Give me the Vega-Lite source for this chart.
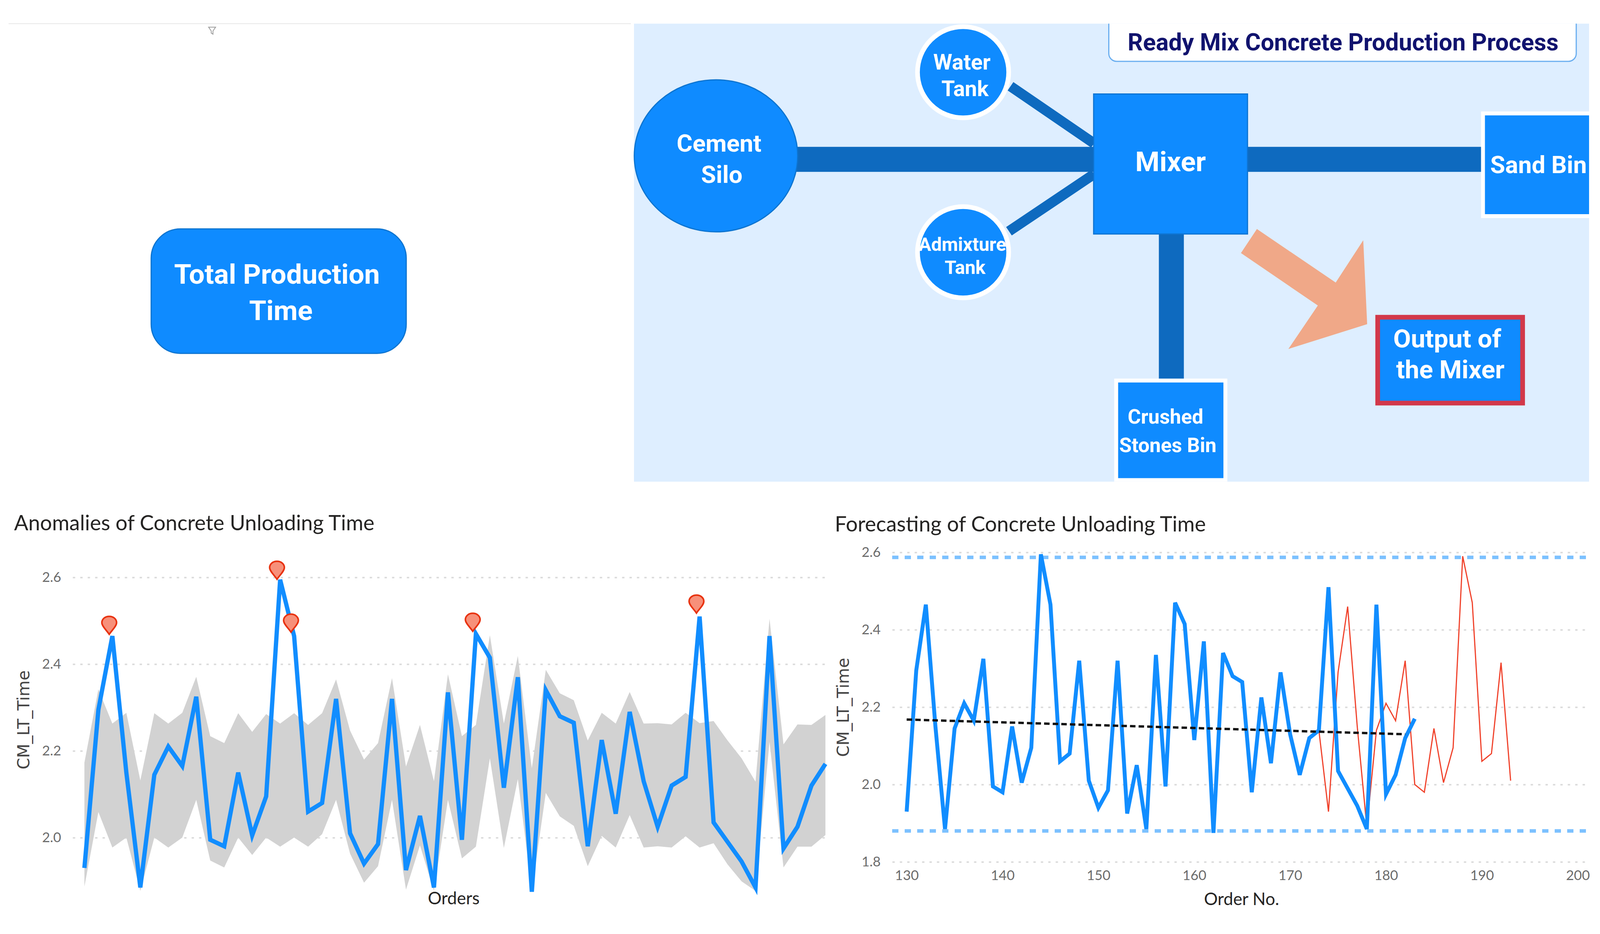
{
  "$schema": "https://vega.github.io/schema/vega-lite/v6.json",
  "description": "Concrete production process dashboard with anomaly and forecast line charts.",
  "background": "#ffffff",
  "padding": {"left": 20, "top": 43.5, "right": 0, "bottom": 0},
  "autosize": {"type": "pad"},
  "datasets": {
    "orders": [
      {"order":130,"value":1.93,"upper":2.173,"lower":1.887},
      {"order":131,"value":2.295,"upper":2.342,"lower":2.059},
      {"order":132,"value":2.465,"upper":2.263,"lower":1.977},
      {"order":133,"value":2.15,"upper":2.288,"lower":2.0},
      {"order":134,"value":1.885,"upper":2.132,"lower":1.877},
      {"order":135,"value":2.145,"upper":2.287,"lower":2.0},
      {"order":136,"value":2.21,"upper":2.263,"lower":1.977},
      {"order":137,"value":2.165,"upper":2.288,"lower":2.0},
      {"order":138,"value":2.325,"upper":2.371,"lower":2.087},
      {"order":139,"value":1.995,"upper":2.234,"lower":1.947},
      {"order":140,"value":1.98,"upper":2.218,"lower":1.931},
      {"order":141,"value":2.15,"upper":2.287,"lower":2.0},
      {"order":142,"value":2.005,"upper":2.244,"lower":1.96},
      {"order":143,"value":2.095,"upper":2.285,"lower":2.0},
      {"order":144,"value":2.595,"upper":2.263,"lower":1.979},
      {"order":145,"value":2.465,"upper":2.287,"lower":2.0},
      {"order":146,"value":2.06,"upper":2.26,"lower":1.979},
      {"order":147,"value":2.08,"upper":2.287,"lower":2.008},
      {"order":148,"value":2.32,"upper":2.365,"lower":2.087},
      {"order":149,"value":2.01,"upper":2.247,"lower":1.963},
      {"order":150,"value":1.94,"upper":2.18,"lower":1.896},
      {"order":151,"value":1.985,"upper":2.218,"lower":1.934},
      {"order":152,"value":2.32,"upper":2.368,"lower":2.087},
      {"order":153,"value":1.925,"upper":2.164,"lower":1.88},
      {"order":154,"value":2.05,"upper":2.26,"lower":1.982},
      {"order":155,"value":1.885,"upper":2.13,"lower":1.877},
      {"order":156,"value":2.335,"upper":2.377,"lower":2.087},
      {"order":157,"value":1.995,"upper":2.234,"lower":1.952},
      {"order":158,"value":2.47,"upper":2.26,"lower":1.979},
      {"order":159,"value":2.415,"upper":2.467,"lower":2.183},
      {"order":160,"value":2.115,"upper":2.263,"lower":1.976},
      {"order":161,"value":2.37,"upper":2.419,"lower":2.135},
      {"order":162,"value":1.875,"upper":2.16,"lower":1.877},
      {"order":163,"value":2.34,"upper":2.387,"lower":2.103},
      {"order":164,"value":2.28,"upper":2.333,"lower":2.049},
      {"order":165,"value":2.265,"upper":2.317,"lower":2.027},
      {"order":166,"value":1.98,"upper":2.224,"lower":1.934},
      {"order":167,"value":2.225,"upper":2.288,"lower":2.004},
      {"order":168,"value":2.055,"upper":2.263,"lower":1.977},
      {"order":169,"value":2.29,"upper":2.336,"lower":2.052},
      {"order":170,"value":2.13,"upper":2.263,"lower":1.977},
      {"order":171,"value":2.025,"upper":2.264,"lower":1.98},
      {"order":172,"value":2.12,"upper":2.261,"lower":1.977},
      {"order":173,"value":2.14,"upper":2.288,"lower":2.003},
      {"order":174,"value":2.51,"upper":2.264,"lower":1.977},
      {"order":175,"value":2.035,"upper":2.269,"lower":1.987},
      {"order":176,"value":1.99,"upper":2.224,"lower":1.938},
      {"order":177,"value":1.945,"upper":2.183,"lower":1.899},
      {"order":178,"value":1.885,"upper":2.129,"lower":1.877},
      {"order":179,"value":2.465,"upper":2.505,"lower":2.221},
      {"order":180,"value":1.975,"upper":2.215,"lower":1.931},
      {"order":181,"value":2.025,"upper":2.261,"lower":1.979},
      {"order":182,"value":2.12,"upper":2.26,"lower":1.979},
      {"order":183,"value":2.17,"upper":2.283,"lower":2.006}
    ],
    "anomalies": [
      {"order":132,"value":2.469},
      {"order":144,"value":2.596},
      {"order":145,"value":2.474},
      {"order":158,"value":2.476},
      {"order":174,"value":2.518}
    ],
    "forecast": [
      {"order":173,"value":2.14},
      {"order":174,"value":1.93},
      {"order":175,"value":2.29},
      {"order":176,"value":2.46},
      {"order":177,"value":2.15},
      {"order":178,"value":1.89},
      {"order":179,"value":2.14},
      {"order":180,"value":2.21},
      {"order":181,"value":2.165},
      {"order":182,"value":2.32},
      {"order":183,"value":2.0},
      {"order":184,"value":1.98},
      {"order":185,"value":2.145},
      {"order":186,"value":2.005},
      {"order":187,"value":2.095},
      {"order":188,"value":2.59},
      {"order":189,"value":2.47},
      {"order":190,"value":2.06},
      {"order":191,"value":2.08},
      {"order":192,"value":2.315},
      {"order":193,"value":2.01}
    ],
    "trend": [
      {"order":130,"value":2.168},
      {"order":182,"value":2.13}
    ],
    "limits": [
      {"order":128.49,"value":2.587,"limit":"max"},
      {"order":201.1,"value":2.587,"limit":"max"},
      {"order":128.49,"value":1.88,"limit":"min"},
      {"order":201.1,"value":1.88,"limit":"min"}
    ],
    "pipes": [
      {"name":"Cement","kind":"main","x":204,"x2":281,"y":40.9,"y2":40.9},
      {"name":"Sand","kind":"main","x":320,"x2":381,"y":40.9,"y2":40.9},
      {"name":"Stones","kind":"main","x":300.7,"x2":300.7,"y":60,"y2":97.5},
      {"name":"Water","kind":"branch","x":259.3,"x2":280.8,"y":22.1,"y2":36.8},
      {"name":"Admixture","kind":"branch","x":258.9,"x2":280.8,"y":59.4,"y2":44.7}
    ],
    "boxes": [
      {"name":"Mixer","x":280.7,"x2":320.3,"y":24.1,"y2":60.1},
      {"name":"Sand Bin","x":380.9,"x2":412,"y":29.1,"y2":55.5},
      {"name":"Crushed Stones Bin","x":286.5,"x2":314.6,"y":97.8,"y2":123.4},
      {"name":"Output of the Mixer","x":353.8,"x2":391.1,"y":81.5,"y2":103.6}
    ],
    "tanks": [
      {"name":"Water Tank","x":247.1,"y":18.5},
      {"name":"Admixture Tank","x":247.1,"y":64.8}
    ],
    "labels": [
      {"label":"Ready Mix Concrete Production Process","group":"heading","x":344.9,"y":11.1},
      {"label":"Cement","group":"large","x":184.3,"y":37},
      {"label":"Silo","group":"large","x":185,"y":45},
      {"label":"Water","group":"small","x":246.8,"y":16.1},
      {"label":"Tank","group":"small","x":247.6,"y":22.9},
      {"label":"Admixture","group":"tiny","x":246.9,"y":63},
      {"label":"Tank","group":"tiny","x":247.6,"y":69},
      {"label":"Mixer","group":"mixer","x":300.5,"y":41.8},
      {"label":"Sand Bin","group":"large","x":395.2,"y":42.5},
      {"label":"Crushed","group":"bin","x":299.2,"y":107.4},
      {"label":"Stones Bin","group":"bin","x":299.8,"y":114.7},
      {"label":"Output of","group":"output","x":371.7,"y":87.3},
      {"label":"the Mixer","group":"output","x":372.5,"y":95.2}
    ]
  },
  "config": {
    "view": {"stroke": null},
    "axis": {
      "domain": false,
      "ticks": false,
      "grid": false,
      "labelFont": "Lato",
      "labelFontSize": 35,
      "labelColor": "#6b6b6b",
      "titleFont": "Lato",
      "titleFontWeight": "normal",
      "titleFontSize": 44,
      "titleColor": "#252423",
      "gridColor": "#dcdcdc",
      "gridWidth": 4,
      "gridDash": [6, 13]
    },
    "title": {
      "font": "Lato",
      "fontWeight": "normal",
      "fontSize": 54,
      "color": "#252423",
      "anchor": "start",
      "frame": "group"
    },
    "text": {"font": "Roboto", "fontWeight": "bold", "align": "center", "baseline": "middle"}
  },
  "spacing": 81,
  "vconcat": [
    {
      "spacing": 0,
      "hconcat": [
        {
          "width": 1429,
          "height": 1172,
          "encoding": {
            "x": {"field": "x", "type": "quantitative", "scale": {"domain": [18.4, 161.3], "nice": false, "zero": false}, "axis": null},
            "y": {"field": "y", "type": "quantitative", "scale": {"domain": [6, 123.8], "nice": false, "zero": false, "reverse": true}, "axis": null}
          },
          "layer": [
            {
              "data": {"values": [{"x": 2, "x2": 161.3, "y": 6}]},
              "mark": {"type": "rule", "color": "#eeeeee", "strokeWidth": 3},
              "encoding": {"x2": {"field": "x2"}}
            },
            {
              "data": {"values": [{"x": 54.1, "y": 7.8}]},
              "mark": {"type": "point", "shape": "M-1,-1L1,-1L0.25,0.1L0.25,1L-0.25,0.7L-0.25,0.1Z", "size": 324, "stroke": "#9a9a9a", "strokeWidth": 2, "filled": false, "opacity": 1}
            },
            {
              "data": {"values": [{"name": "Total Production Time", "x": 38.5, "x2": 103.8, "y": 58.8, "y2": 90.8}]},
              "mark": {"type": "rect", "fill": "#0f8bff", "stroke": "#0d74d0", "strokeWidth": 3, "cornerRadius": 75},
              "encoding": {"x2": {"field": "x2"}, "y2": {"field": "y2"}}
            },
            {
              "data": {"values": [{"label": "Total Production", "x": 70.7, "y": 70.8}, {"label": "Time", "x": 71.7, "y": 80.1}]},
              "mark": {"type": "text", "color": "#ffffff", "fontSize": 71},
              "encoding": {"text": {"field": "label"}}
            }
          ]
        },
        {
          "width": 2445,
          "height": 1172,
          "view": {"fill": "#deeeff"},
          "encoding": {
            "x": {"field": "x", "type": "quantitative", "scale": {"domain": [162.4, 408.2], "nice": false, "zero": false}, "axis": null},
            "y": {"field": "y", "type": "quantitative", "scale": {"domain": [6, 123.8], "nice": false, "zero": false, "reverse": true}, "axis": null}
          },
          "resolve": {"scale": {"strokeWidth": "independent"}},
          "layer": [
            {
              "data": {"name": "pipes"},
              "mark": {"type": "rule", "color": "#0e6abf"},
              "encoding": {
                "x2": {"field": "x2"},
                "y2": {"field": "y2"},
                "strokeWidth": {"field": "kind", "type": "nominal", "scale": {"type": "ordinal", "domain": ["main", "branch"], "range": [64, 26]}, "legend": null}
              }
            },
            {
              "data": {"values": [{"name": "Cement Silo", "x": 183.5, "y": 40}]},
              "mark": {"type": "point", "shape": "M-1,0C-1,-0.514,-0.552,-0.93,0,-0.93C0.552,-0.93,1,-0.514,1,0C1,0.514,0.552,0.93,0,0.93C-0.552,0.93,-1,0.514,-1,0Z", "size": 175000, "filled": true, "fill": "#0f8bff", "stroke": "#0d74d0", "strokeWidth": 3, "opacity": 1}
            },
            {
              "data": {"name": "tanks"},
              "mark": {"type": "point", "shape": "circle", "size": 54500, "filled": true, "fill": "#0f8bff", "stroke": "#ffffff", "strokeWidth": 12, "opacity": 1}
            },
            {
              "data": {"name": "boxes"},
              "mark": {"type": "rect", "fill": "#0f8bff", "clip": true},
              "encoding": {
                "x2": {"field": "x2"},
                "y2": {"field": "y2"},
                "stroke": {"field": "name", "type": "nominal", "scale": {"domain": ["Mixer", "Sand Bin", "Crushed Stones Bin", "Output of the Mixer"], "range": ["#0e74d2", "#ffffff", "#ffffff", "#d2384a"]}, "legend": null},
                "strokeWidth": {"field": "name", "type": "nominal", "scale": {"type": "ordinal", "domain": ["Mixer", "Sand Bin", "Crushed Stones Bin", "Output of the Mixer"], "range": [3, 10, 10, 12]}, "legend": null}
              }
            },
            {
              "data": {"values": [{"name": "Output arrow", "x": 334.8, "y": 74.2}]},
              "mark": {"type": "point", "shape": "M-0.733,-0.933L-0.982,-0.558L0.218,0.261L-0.242,0.939L0.988,0.552L0.927,-0.758L0.497,-0.097Z", "size": 107600, "filled": true, "fill": "#f0a888", "strokeWidth": 0, "opacity": 1}
            },
            {
              "data": {"values": [{"name": "Heading", "x": 284.6, "x2": 404.9, "y": 3, "y2": 15.7}]},
              "mark": {"type": "rect", "fill": "#ffffff", "stroke": "#6aaef0", "strokeWidth": 3, "cornerRadius": 20, "clip": true},
              "encoding": {"x2": {"field": "x2"}, "y2": {"field": "y2"}}
            },
            {
              "data": {"name": "labels"},
              "mark": {"type": "text"},
              "encoding": {
                "text": {"field": "label"},
                "color": {"field": "group", "type": "nominal", "scale": {"domain": ["heading", "large", "output", "small", "bin", "tiny", "mixer"], "range": ["#11136e", "#ffffff", "#ffffff", "#ffffff", "#ffffff", "#ffffff", "#ffffff"]}, "legend": null},
                "size": {"field": "group", "type": "nominal", "scale": {"type": "ordinal", "domain": ["heading", "large", "output", "small", "bin", "tiny", "mixer"], "range": [61, 62, 65.5, 55.5, 51.5, 48, 71]}, "legend": null}
              }
            }
          ]
        }
      ]
    },
    {
      "spacing": 1,
      "hconcat": [
        {
          "width": 1935,
          "height": 874,
          "title": {"text": "Anomalies of Concrete Unloading Time", "dx": -150, "offset": 46},
          "encoding": {
            "x": {
              "field": "order",
              "type": "quantitative",
              "scale": {"domain": [129.16, 183.22], "nice": false, "zero": false},
              "axis": {"title": "Orders", "labels": false, "titlePadding": -9, "titleX": 975}
            },
            "y": {
              "field": "value",
              "type": "quantitative",
              "scale": {"domain": [1.87, 2.658], "nice": false, "zero": false},
              "axis": {"title": "CM_LT_Time", "titleFont": "DejaVu Sans", "titleFontSize": 42, "titleColor": "#444444", "titleY": 428, "values": [2.0, 2.2, 2.4, 2.6], "format": ".1f", "grid": true, "labelPadding": 30, "titlePadding": 24}
            }
          },
          "layer": [
            {
              "data": {"name": "orders"},
              "mark": {"type": "area", "color": "#d2d2d2", "clip": true},
              "encoding": {"y": {"field": "lower"}, "y2": {"field": "upper"}}
            },
            {
              "data": {"name": "orders"},
              "mark": {"type": "line", "color": "#118dff", "strokeWidth": 11}
            },
            {
              "data": {"name": "anomalies"},
              "mark": {"type": "point", "shape": "M-0.35,0C-0.65,-0.45,-1.17,-0.9,-1.17,-1.3C-1.17,-1.7,-0.8,-2,-0.35,-2C0.1,-2,0.47,-1.7,0.47,-1.3C0.47,-0.9,-0.05,-0.45,-0.35,0Z", "size": 2116, "filled": true, "fill": "#f7907a", "stroke": "#e8320f", "strokeWidth": 4, "opacity": 1}
            }
          ]
        },
        {
          "width": 1782,
          "height": 792,
          "title": {"text": "Forecasting of Concrete Unloading Time", "dx": -147, "offset": 26},
          "encoding": {
            "x": {
              "field": "order",
              "type": "quantitative",
              "scale": {"domain": [128.49, 201.1], "nice": false, "zero": false},
              "axis": {"title": "Order No.", "values": [130, 140, 150, 160, 170, 180, 190, 200], "labelPadding": 18, "titlePadding": 22, "titleX": 894, "labelFlush": false, "labelOverlap": false}
            },
            "y": {
              "field": "value",
              "type": "quantitative",
              "scale": {"domain": [1.8, 2.6], "nice": false, "zero": false},
              "axis": {"title": "CM_LT_Time", "titleFont": "DejaVu Sans", "titleFontSize": 42, "titleColor": "#444444", "values": [1.8, 2.0, 2.2, 2.4, 2.6], "format": ".1f", "grid": true, "labelPadding": 30, "titlePadding": 24}
            }
          },
          "layer": [
            {
              "data": {"name": "limits"},
              "mark": {"type": "line", "color": "#7cc1ff", "strokeWidth": 9, "strokeDash": [16, 16]},
              "encoding": {"detail": {"field": "limit"}}
            },
            {
              "data": {"name": "forecast"},
              "mark": {"type": "line", "color": "#f0412a", "strokeWidth": 3}
            },
            {
              "data": {"name": "orders"},
              "mark": {"type": "line", "color": "#118dff", "strokeWidth": 10}
            },
            {
              "data": {"name": "trend"},
              "mark": {"type": "line", "color": "#111111", "strokeWidth": 6, "strokeDash": [14, 8]}
            }
          ]
        }
      ]
    }
  ]
}
